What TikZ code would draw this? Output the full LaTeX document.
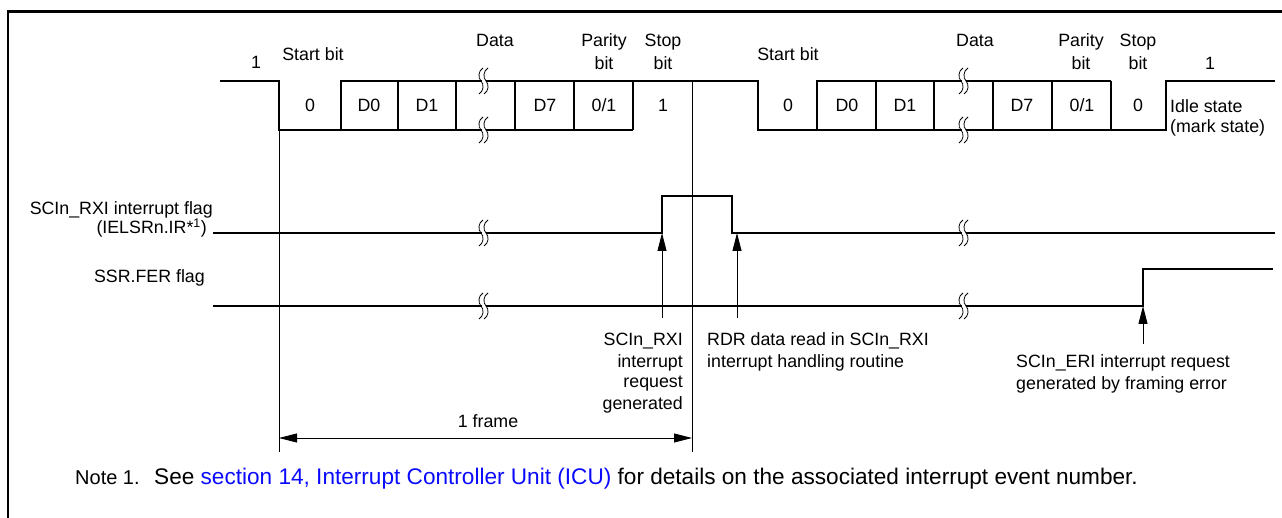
\documentclass[tikz,border=0pt]{standalone}
\usepackage{fontspec}
\setmainfont{Liberation Sans}
\usepackage{xcolor}
\usetikzlibrary{arrows.meta,positioning}
\definecolor{linkblue}{RGB}{10,10,255}

\begin{document}
\begin{tikzpicture}[x=1pt, y=-1pt, font=\fontsize{17.8}{21}\selectfont,
  wave/.style={line width=1.3pt},
  guide/.style={line width=0.9pt},
  req/.style={line width=0.9pt, -{Triangle[length=18pt,width=9pt]}},
  lbl/.style={inner sep=0pt, anchor=base},
  notelbl/.style={lbl, anchor=base west, font=\fontsize{22.6}{26}\selectfont},
  brk/.pic={
    \fill[white] (1,-1.6) rectangle (5,1.6);
    \draw[line width=0.8pt] (2,-13) .. controls (-3,-10) and (-3,-3) .. (0,0)
      .. controls (3,3) and (3,10) .. (-2,13);
    \draw[line width=0.8pt] (7,-13) .. controls (2,-10) and (2,-3) .. (5,0)
      .. controls (8,3) and (8,10) .. (3,13);
  }]
\useasboundingbox (0,0) rectangle (1282,518);
\draw[line width=2.7pt] (1284,11.5) -- (8,11.5) -- (8,520);

\draw[wave] (220,81) -- (279,81) -- (279,130) -- (633,130);
\draw[wave] (341,130) -- (341,81) -- (758,81) -- (758,130) -- (1166,130)
  -- (1166,81) -- (1275,81);
\draw[wave] (817,130) -- (817,81) -- (1111,81);
\foreach \x in {398,456,515,574,633,876,934,993,1052,1111}
  \draw[wave] (\x,81) -- (\x,130);

\draw[wave] (213,233) -- (662,233) -- (662,196) -- (732,196) -- (732,233)
  -- (1275,233);
\draw[wave] (213,306) -- (1143,306) -- (1143,269) -- (1273,269);

\foreach \x in {481,961}
  \foreach \y in {81,130,233,306}
    \pic at (\x,\y) {brk};

\draw[guide] (279,130) -- (279,452);
\draw[guide] (692,81) -- (692,452);

\node[lbl] (one1) at (256,69) {1};
\node[lbl] (start1) at (313,61) {Start bit};
\node[lbl] (data1) at (495,47) {Data};
\node[lbl] (par1) at (604,47) {Parity};
\node[lbl] (par1b) at (604,70) {bit};
\node[lbl] (stop1) at (663,47) {Stop};
\node[lbl] (stop1b) at (663,70) {bit};
\node[lbl] (start2) at (788,61) {Start bit};
\node[lbl] (data2) at (975,47) {Data};
\node[lbl] (par2) at (1081,47) {Parity};
\node[lbl] (par2b) at (1081,70) {bit};
\node[lbl] (stop2) at (1138,47) {Stop};
\node[lbl] (stop2b) at (1138,70) {bit};
\node[lbl] (one2) at (1210,70) {1};
\node[lbl, anchor=base west] (idle) at (1170,113) {Idle state};
\node[lbl, anchor=base west] (mark) at (1170,133) {(mark state)};

\foreach \x/\t [count=\i] in {310/0, 369/D0, 427/D1, 545/D7, 604/{0/1}, 663/1,
    788/0, 847/D0, 905/D1, 1022/D7, 1082/{0/1}, 1138/0}
  \node[lbl] (cell\i) at (\x,112) {\t};

\node[lbl, anchor=base east] (rxiflag) at (213,215) {SCIn\_RXI interrupt flag};
\node[lbl, anchor=base east] (rxireg) at (207,234) {(IELSRn.IR*\textsuperscript{1})};
\node[lbl, anchor=base east] (ferflag) at (205,283) {SSR.FER flag};

\coordinate (rxiA) at (662,318);
\coordinate (rxiB) at (662,233);
\coordinate (rdrA) at (737,318);
\coordinate (rdrB) at (737,233);
\coordinate (eriA) at (1143,344);
\coordinate (eriB) at (1143,306);
\draw[req] (rxiA) -- (rxiB);
\draw[req] (rdrA) -- (rdrB);
\draw[req] (eriA) -- (eriB);

\node[lbl, anchor=base east] (rxi1) at (683,346) {SCIn\_RXI};
\node[lbl, anchor=base east] (rxi2) at (683,367) {interrupt};
\node[lbl, anchor=base east] (rxi3) at (683,388) {request};
\node[lbl, anchor=base east] (rxi4) at (683,409) {generated};
\node[lbl, anchor=base west] (rdr1) at (707,346) {RDR data read in SCIn\_RXI};
\node[lbl, anchor=base west] (rdr2) at (707,367) {interrupt handling routine};
\node[lbl, anchor=base west] (eri1) at (1016,368) {SCIn\_ERI interrupt request};
\node[lbl, anchor=base west] (eri2) at (1016,389) {generated by framing error};

\coordinate (fs) at (279,438);
\coordinate (fe) at (692,438);
\draw[guide, {Triangle[length=18pt,width=9pt]}-{Triangle[length=18pt,width=9pt]}] (fs) -- (fe);
\node[lbl] (frame) at (488,427) {1 frame};

\node[notelbl, font=\fontsize{20}{24}\selectfont] (note) at (75,484) {Note 1.};
\node[notelbl] (notetext) at (154,484) {See \textcolor{linkblue}{section 14, Interrupt Controller Unit (ICU)} for details on the associated interrupt event number.};
\end{tikzpicture}
\end{document}
